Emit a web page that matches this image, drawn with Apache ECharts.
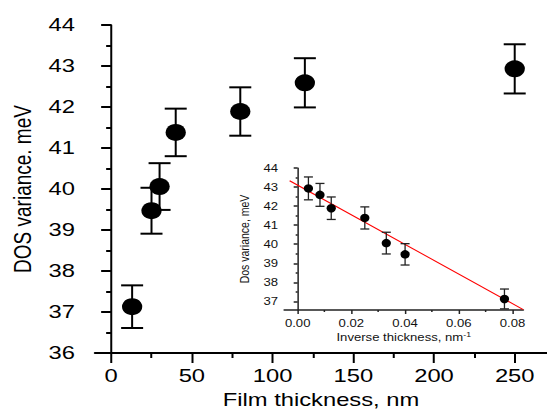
<!DOCTYPE html>
<html>
<head>
<meta charset="utf-8">
<script src="https://cdn.jsdelivr.net/npm/echarts@6.0.0/dist/echarts.min.js"></script>
<style>
html,body{margin:0;padding:0;background:#fff;overflow:hidden;width:547px;height:414px;}
/* the reference figure is horizontally stretched; reproduce that with a horizontal scale */
#c{width:437.6px;height:414px;transform:scaleX(1.25);transform-origin:0 0;}
</style>
</head>
<body>
<div id="c"></div>
<script>
// ---- data ----
const thickness = [13, 25, 30, 40, 80, 120, 250];
const dosVariance = [37.13, 39.47, 40.06, 41.38, 41.89, 42.59, 42.93];
const dosError = [0.52, 0.56, 0.57, 0.58, 0.59, 0.6, 0.6];
const inverseThickness = [0.077, 0.040, 0.033, 0.025, 0.0125, 0.0083, 0.004];
const fitX = [-0.003, 0.084];
const fitY = [43.33, 36.57];
const mainXTicks = [0, 50, 100, 150, 200, 250];
const mainXMinor = [25, 75, 125, 175, 225];
const insetXTicks = [0, 0.02, 0.04, 0.06, 0.08];
const insetXMinor = [0.01, 0.03, 0.05, 0.07];
const insetYTicks = [37, 38, 39, 40, 41, 42, 43, 44];
const insetYMinor = [37.5, 38.5, 39.5, 40.5, 41.5, 42.5, 43.5];

const FONT = 'Liberation Sans, Arial, sans-serif';
const SX = 1.25; // horizontal stretch applied via CSS
const chart = echarts.init(document.getElementById('c'), null, { renderer: 'svg' });

function errorBars(xs, ys, es, cap, color, width) {
  return {
    type: 'custom',
    renderItem: function (params, api) {
      const x = api.value(0), y = api.value(1), e = api.value(2);
      const t = api.coord([x, y + e]);
      const b = api.coord([x, y - e]);
      const sv = { stroke: color, lineWidth: width / SX };
      const sh = { stroke: color, lineWidth: width };
      return {
        type: 'group',
        children: [
          { type: 'line', shape: { x1: t[0], y1: t[1], x2: b[0], y2: b[1] }, style: sv },
          { type: 'line', shape: { x1: t[0] - cap, y1: t[1], x2: t[0] + cap, y2: t[1] }, style: sh },
          { type: 'line', shape: { x1: b[0] - cap, y1: b[1], x2: b[0] + cap, y2: b[1] }, style: sh }
        ]
      };
    },
    data: xs.map((x, i) => [x, ys[i], es[i]]),
    z: 2,
    silent: true
  };
}

const black = '#000';
const ink = '#222';
const option = {
  animation: false,
  backgroundColor: '#fff',
  grid: [
    { left: 76, top: 25, width: 361.6, height: 328 },
    { left: 227.4, top: 168, width: 191.2, height: 142 }
  ],
  xAxis: [
    {
      type: 'value', gridIndex: 0, min: -10, max: 270, position: 'bottom',
      axisLine: { lineStyle: { color: black, width: 2 } },
      axisTick: { customValues: mainXTicks, length: 10, lineStyle: { color: black, width: 2 / SX } },
      axisLabel: { customValues: mainXTicks, color: black, fontSize: 19, fontFamily: FONT, margin: 13 },
      splitLine: { show: false },
      name: 'Film thickness, nm', nameLocation: 'middle', nameGap: 37,
      nameTextStyle: { color: black, fontSize: 19, fontFamily: FONT }
    },
    {
      type: 'value', gridIndex: 0, min: -10, max: 270, position: 'bottom',
      axisLine: { show: false },
      axisTick: { customValues: mainXMinor, length: 5, lineStyle: { color: black, width: 2 / SX } },
      axisLabel: { show: false },
      splitLine: { show: false }
    },
    {
      type: 'value', gridIndex: 1, min: -0.005, max: 0.084, position: 'bottom',
      axisLine: { lineStyle: { color: ink, width: 1.5 } },
      axisTick: { customValues: insetXTicks, length: 4, lineStyle: { color: ink, width: 1.5 / SX } },
      axisLabel: {
        customValues: insetXTicks, color: '#111', fontSize: 10.5, fontFamily: FONT, margin: 8,
        formatter: v => v.toFixed(2)
      },
      splitLine: { show: false },
      name: '{a|Inverse thickness, nm}{s|-1}', nameLocation: 'middle', nameGap: 21,
      nameTextStyle: {
        rich: {
          a: { color: '#111', fontSize: 10.5, fontFamily: FONT },
          s: { color: '#111', fontSize: 7, fontFamily: FONT, verticalAlign: 'top', padding: [0, 0, 6, 0] }
        }
      }
    },
    {
      type: 'value', gridIndex: 1, min: -0.005, max: 0.084, position: 'bottom',
      axisLine: { show: false },
      axisTick: { customValues: insetXMinor, length: 2, lineStyle: { color: ink, width: 1.5 / SX } },
      axisLabel: { show: false },
      splitLine: { show: false }
    }
  ],
  yAxis: [
    {
      type: 'value', gridIndex: 0, min: 36, max: 44, interval: 1,
      axisLine: { show: true, lineStyle: { color: black, width: 2 / SX } },
      axisTick: { show: true, length: 10 / SX, lineStyle: { color: black, width: 2 } },
      minorTick: { show: true, splitNumber: 2, length: 5 / SX, lineStyle: { color: black, width: 2 } },
      axisLabel: { color: black, fontSize: 19, fontFamily: FONT, margin: 16 },
      splitLine: { show: false },
      name: 'DOS variance. meV', nameLocation: 'middle', nameGap: 48,
      nameTextStyle: { color: black, fontSize: 19, fontFamily: FONT }
    },
    {
      type: 'value', gridIndex: 1, min: 36.55, max: 44,
      axisLine: { show: true, lineStyle: { color: ink, width: 1.5 / SX } },
      axisTick: { show: true, customValues: insetYTicks, length: 4 / SX, lineStyle: { color: ink, width: 1.5 } },
      axisLabel: { customValues: insetYTicks, color: '#111', fontSize: 10.5, fontFamily: FONT, margin: 5 },
      splitLine: { show: false },
      name: 'Dos variance, meV', nameLocation: 'middle', nameGap: 26,
      nameTextStyle: { color: '#111', fontSize: 10.5, fontFamily: FONT }
    },
    {
      type: 'value', gridIndex: 1, min: 36.55, max: 44, position: 'left',
      axisLine: { show: false },
      axisTick: { show: true, customValues: insetYMinor, length: 2 / SX, lineStyle: { color: ink, width: 1.5 } },
      axisLabel: { show: false },
      splitLine: { show: false }
    }
  ],
  series: [
    Object.assign(errorBars(thickness, dosVariance, dosError, 11 / SX, black, 2), { xAxisIndex: 0, yAxisIndex: 0 }),
    {
      type: 'scatter', xAxisIndex: 0, yAxisIndex: 0,
      symbol: 'circle', symbolSize: [16.2, 17],
      itemStyle: { color: black, opacity: 1 },
      data: thickness.map((t, i) => [t, dosVariance[i]]),
      z: 3, silent: true
    },
    {
      type: 'line', xAxisIndex: 2, yAxisIndex: 1,
      data: fitX.map((x, i) => [x, fitY[i]]),
      symbol: 'none', lineStyle: { color: '#ff0000', width: 1 },
      z: 1, silent: true
    },
    Object.assign(errorBars(inverseThickness, dosVariance, dosError, 4.5 / SX, ink, 1.3), { xAxisIndex: 2, yAxisIndex: 1 }),
    {
      type: 'scatter', xAxisIndex: 2, yAxisIndex: 1,
      symbol: 'circle', symbolSize: [7.4, 8.5],
      itemStyle: { color: black, opacity: 1 },
      data: inverseThickness.map((t, i) => [t, dosVariance[i]]),
      z: 3, silent: true
    }
  ]
};
chart.setOption(option);
</script>
</body>
</html>
